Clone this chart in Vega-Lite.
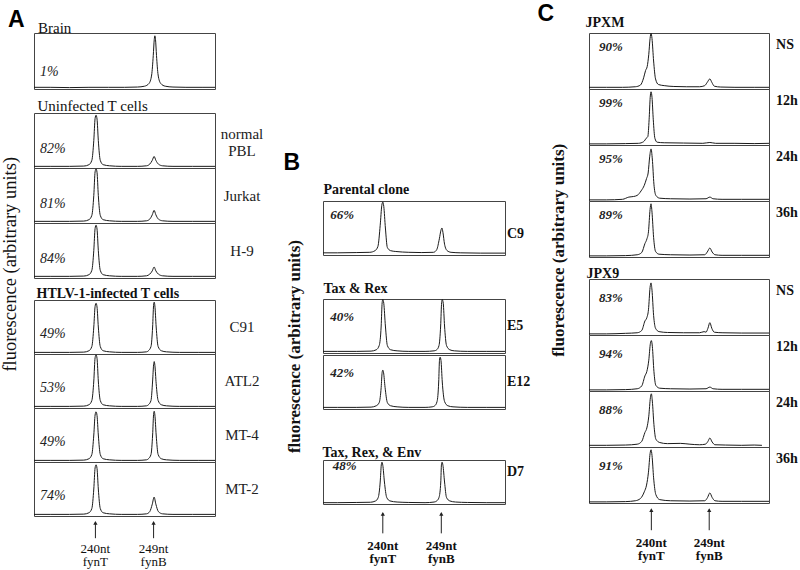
{
"$schema": "https://vega.github.io/schema/vega-lite/v6.json",
"background": "white",
"padding": {"left": 0, "top": 2, "right": 0, "bottom": 0},
"config": {"view": {"stroke": "#444", "strokeWidth": 1}, "font": "Liberation Serif", "title": {"color": "#111"}, "text": {"color": "#111", "font": "Liberation Serif"}},
"datasets": {
"a1": [
{"s":"Brain","x":230.5,"y":0.03},{"s":"Brain","x":233,"y":0.03},{"s":"Brain","x":236,"y":0.025},{"s":"Brain","x":239,"y":0.03},{"s":"Brain","x":242,"y":0.03},{"s":"Brain","x":244.5,"y":0.03},{"s":"Brain","x":246.5,"y":0.035},{"s":"Brain","x":247.6,"y":0.05},{"s":"Brain","x":248.3,"y":0.1},{"s":"Brain","x":248.7,"y":0.25},{"s":"Brain","x":248.95,"y":0.6},{"s":"Brain","x":249.1,"y":0.88},{"s":"Brain","x":249.2,"y":0.95},{"s":"Brain","x":249.3,"y":0.88},{"s":"Brain","x":249.45,"y":0.6},{"s":"Brain","x":249.7,"y":0.25},{"s":"Brain","x":250.1,"y":0.1},{"s":"Brain","x":250.8,"y":0.05},{"s":"Brain","x":252,"y":0.035},{"s":"Brain","x":254,"y":0.03},{"s":"Brain","x":256.5,"y":0.03},{"s":"Brain","x":258.5,"y":0.03},
{"s":"Brain","p":"1%"}
],
"a2": [
{"s":"normal PBL","x":230.5,"y":0.03},{"s":"normal PBL","x":233,"y":0.03},{"s":"normal PBL","x":236,"y":0.03},{"s":"normal PBL","x":238.2,"y":0.035},{"s":"normal PBL","x":239,"y":0.06},{"s":"normal PBL","x":239.45,"y":0.14},{"s":"normal PBL","x":239.75,"y":0.5},{"s":"normal PBL","x":239.95,"y":0.9},{"s":"normal PBL","x":240.1,"y":0.96},{"s":"normal PBL","x":240.25,"y":0.89},{"s":"normal PBL","x":240.45,"y":0.5},{"s":"normal PBL","x":240.75,"y":0.14},{"s":"normal PBL","x":241.2,"y":0.06},{"s":"normal PBL","x":242.2,"y":0.04},{"s":"normal PBL","x":244,"y":0.03},{"s":"normal PBL","x":246.5,"y":0.03},{"s":"normal PBL","x":247.9,"y":0.04},{"s":"normal PBL","x":248.4,"y":0.07},{"s":"normal PBL","x":248.8,"y":0.14},{"s":"normal PBL","x":249.08,"y":0.21},{"s":"normal PBL","x":249.35,"y":0.14},{"s":"normal PBL","x":249.75,"y":0.07},{"s":"normal PBL","x":250.4,"y":0.04},{"s":"normal PBL","x":252,"y":0.03},{"s":"normal PBL","x":255,"y":0.03},{"s":"normal PBL","x":258.5,"y":0.03},
{"s":"Jurkat","x":230.5,"y":0.03},{"s":"Jurkat","x":233,"y":0.03},{"s":"Jurkat","x":236,"y":0.03},{"s":"Jurkat","x":238.2,"y":0.035},{"s":"Jurkat","x":239,"y":0.06},{"s":"Jurkat","x":239.45,"y":0.14},{"s":"Jurkat","x":239.75,"y":0.5},{"s":"Jurkat","x":239.95,"y":0.93},{"s":"Jurkat","x":240.1,"y":0.985},{"s":"Jurkat","x":240.25,"y":0.92},{"s":"Jurkat","x":240.45,"y":0.5},{"s":"Jurkat","x":240.75,"y":0.14},{"s":"Jurkat","x":241.2,"y":0.06},{"s":"Jurkat","x":242.2,"y":0.04},{"s":"Jurkat","x":244,"y":0.03},{"s":"Jurkat","x":246.5,"y":0.03},{"s":"Jurkat","x":247.9,"y":0.04},{"s":"Jurkat","x":248.4,"y":0.07},{"s":"Jurkat","x":248.8,"y":0.15},{"s":"Jurkat","x":249.08,"y":0.23},{"s":"Jurkat","x":249.35,"y":0.15},{"s":"Jurkat","x":249.75,"y":0.07},{"s":"Jurkat","x":250.4,"y":0.04},{"s":"Jurkat","x":252,"y":0.03},{"s":"Jurkat","x":255,"y":0.03},{"s":"Jurkat","x":258.5,"y":0.03},
{"s":"H-9","x":230.5,"y":0.03},{"s":"H-9","x":233,"y":0.03},{"s":"H-9","x":236,"y":0.03},{"s":"H-9","x":238.2,"y":0.035},{"s":"H-9","x":239,"y":0.06},{"s":"H-9","x":239.45,"y":0.14},{"s":"H-9","x":239.75,"y":0.5},{"s":"H-9","x":239.95,"y":0.9},{"s":"H-9","x":240.1,"y":0.96},{"s":"H-9","x":240.25,"y":0.89},{"s":"H-9","x":240.45,"y":0.5},{"s":"H-9","x":240.75,"y":0.14},{"s":"H-9","x":241.2,"y":0.06},{"s":"H-9","x":242.2,"y":0.04},{"s":"H-9","x":244,"y":0.03},{"s":"H-9","x":246.5,"y":0.03},{"s":"H-9","x":247.9,"y":0.04},{"s":"H-9","x":248.4,"y":0.07},{"s":"H-9","x":248.8,"y":0.13},{"s":"H-9","x":249.08,"y":0.2},{"s":"H-9","x":249.35,"y":0.13},{"s":"H-9","x":249.75,"y":0.07},{"s":"H-9","x":250.4,"y":0.04},{"s":"H-9","x":252,"y":0.03},{"s":"H-9","x":255,"y":0.03},{"s":"H-9","x":258.5,"y":0.03},
{"s":"normal PBL","p":"82%"},{"s":"Jurkat","p":"81%"},{"s":"H-9","p":"84%"}
],
"a3": [
{"s":"C91","x":230.5,"y":0.03},{"s":"C91","x":233,"y":0.03},{"s":"C91","x":236,"y":0.03},{"s":"C91","x":238.2,"y":0.035},{"s":"C91","x":239,"y":0.06},{"s":"C91","x":239.45,"y":0.14},{"s":"C91","x":239.75,"y":0.5},{"s":"C91","x":239.95,"y":0.88},{"s":"C91","x":240.1,"y":0.94},{"s":"C91","x":240.25,"y":0.87},{"s":"C91","x":240.45,"y":0.5},{"s":"C91","x":240.75,"y":0.14},{"s":"C91","x":241.2,"y":0.06},{"s":"C91","x":242.2,"y":0.04},{"s":"C91","x":244,"y":0.03},{"s":"C91","x":246.5,"y":0.03},{"s":"C91","x":247.9,"y":0.04},{"s":"C91","x":248.2,"y":0.06},{"s":"C91","x":248.6,"y":0.14},{"s":"C91","x":248.85,"y":0.5},{"s":"C91","x":249.0,"y":0.9},{"s":"C91","x":249.1,"y":0.96},{"s":"C91","x":249.2,"y":0.89},{"s":"C91","x":249.4,"y":0.5},{"s":"C91","x":249.7,"y":0.14},{"s":"C91","x":250.2,"y":0.06},{"s":"C91","x":251,"y":0.04},{"s":"C91","x":253,"y":0.03},{"s":"C91","x":256,"y":0.03},{"s":"C91","x":258.5,"y":0.03},
{"s":"ATL2","x":230.5,"y":0.03},{"s":"ATL2","x":233,"y":0.03},{"s":"ATL2","x":236,"y":0.03},{"s":"ATL2","x":238.2,"y":0.035},{"s":"ATL2","x":239,"y":0.06},{"s":"ATL2","x":239.45,"y":0.14},{"s":"ATL2","x":239.75,"y":0.5},{"s":"ATL2","x":239.95,"y":0.93},{"s":"ATL2","x":240.1,"y":0.985},{"s":"ATL2","x":240.25,"y":0.92},{"s":"ATL2","x":240.45,"y":0.5},{"s":"ATL2","x":240.75,"y":0.14},{"s":"ATL2","x":241.2,"y":0.06},{"s":"ATL2","x":242.2,"y":0.04},{"s":"ATL2","x":244,"y":0.03},{"s":"ATL2","x":246.5,"y":0.03},{"s":"ATL2","x":247.9,"y":0.04},{"s":"ATL2","x":248.2,"y":0.06},{"s":"ATL2","x":248.6,"y":0.14},{"s":"ATL2","x":248.85,"y":0.5},{"s":"ATL2","x":249.0,"y":0.8},{"s":"ATL2","x":249.1,"y":0.86},{"s":"ATL2","x":249.2,"y":0.79},{"s":"ATL2","x":249.4,"y":0.45},{"s":"ATL2","x":249.7,"y":0.14},{"s":"ATL2","x":250.2,"y":0.06},{"s":"ATL2","x":251,"y":0.04},{"s":"ATL2","x":253,"y":0.03},{"s":"ATL2","x":256,"y":0.03},{"s":"ATL2","x":258.5,"y":0.03},
{"s":"MT-4","x":230.5,"y":0.03},{"s":"MT-4","x":233,"y":0.03},{"s":"MT-4","x":236,"y":0.03},{"s":"MT-4","x":238.2,"y":0.035},{"s":"MT-4","x":239,"y":0.06},{"s":"MT-4","x":239.45,"y":0.14},{"s":"MT-4","x":239.75,"y":0.5},{"s":"MT-4","x":239.95,"y":0.87},{"s":"MT-4","x":240.1,"y":0.93},{"s":"MT-4","x":240.25,"y":0.86},{"s":"MT-4","x":240.45,"y":0.5},{"s":"MT-4","x":240.75,"y":0.14},{"s":"MT-4","x":241.2,"y":0.06},{"s":"MT-4","x":242.2,"y":0.04},{"s":"MT-4","x":244,"y":0.03},{"s":"MT-4","x":246.5,"y":0.03},{"s":"MT-4","x":247.9,"y":0.04},{"s":"MT-4","x":248.2,"y":0.06},{"s":"MT-4","x":248.6,"y":0.14},{"s":"MT-4","x":248.85,"y":0.5},{"s":"MT-4","x":249.0,"y":0.88},{"s":"MT-4","x":249.1,"y":0.94},{"s":"MT-4","x":249.2,"y":0.87},{"s":"MT-4","x":249.4,"y":0.5},{"s":"MT-4","x":249.7,"y":0.14},{"s":"MT-4","x":250.2,"y":0.06},{"s":"MT-4","x":251,"y":0.04},{"s":"MT-4","x":253,"y":0.03},{"s":"MT-4","x":256,"y":0.03},{"s":"MT-4","x":258.5,"y":0.03},
{"s":"MT-2","x":230.5,"y":0.03},{"s":"MT-2","x":233,"y":0.03},{"s":"MT-2","x":236,"y":0.03},{"s":"MT-2","x":238.2,"y":0.035},{"s":"MT-2","x":239,"y":0.06},{"s":"MT-2","x":239.45,"y":0.14},{"s":"MT-2","x":239.75,"y":0.5},{"s":"MT-2","x":239.95,"y":0.89},{"s":"MT-2","x":240.1,"y":0.95},{"s":"MT-2","x":240.25,"y":0.88},{"s":"MT-2","x":240.45,"y":0.5},{"s":"MT-2","x":240.75,"y":0.14},{"s":"MT-2","x":241.2,"y":0.06},{"s":"MT-2","x":242.2,"y":0.04},{"s":"MT-2","x":244,"y":0.03},{"s":"MT-2","x":246.5,"y":0.03},{"s":"MT-2","x":247.9,"y":0.04},{"s":"MT-2","x":248.4,"y":0.08},{"s":"MT-2","x":248.8,"y":0.22},{"s":"MT-2","x":249.08,"y":0.35},{"s":"MT-2","x":249.35,"y":0.22},{"s":"MT-2","x":249.75,"y":0.08},{"s":"MT-2","x":250.4,"y":0.04},{"s":"MT-2","x":252,"y":0.03},{"s":"MT-2","x":255,"y":0.03},{"s":"MT-2","x":258.5,"y":0.03},
{"s":"C91","p":"49%"},{"s":"ATL2","p":"53%"},{"s":"MT-4","p":"49%"},{"s":"MT-2","p":"74%"}
],
"b1": [
{"s":"C9","x":230.8,"y":0.04},{"s":"C9","x":233,"y":0.04},{"s":"C9","x":236,"y":0.045},{"s":"C9","x":238,"y":0.05},{"s":"C9","x":238.8,"y":0.08},{"s":"C9","x":239.25,"y":0.16},{"s":"C9","x":239.6,"y":0.55},{"s":"C9","x":239.85,"y":0.92},{"s":"C9","x":240.0,"y":0.98},{"s":"C9","x":240.15,"y":0.9},{"s":"C9","x":240.4,"y":0.5},{"s":"C9","x":240.7,"y":0.14},{"s":"C9","x":241.2,"y":0.08},{"s":"C9","x":242,"y":0.065},{"s":"C9","x":244,"y":0.05},{"s":"C9","x":246,"y":0.045},{"s":"C9","x":247.8,"y":0.05},{"s":"C9","x":248.3,"y":0.1},{"s":"C9","x":248.7,"y":0.3},{"s":"C9","x":248.95,"y":0.46},{"s":"C9","x":249.1,"y":0.5},{"s":"C9","x":249.25,"y":0.42},{"s":"C9","x":249.5,"y":0.2},{"s":"C9","x":249.9,"y":0.08},{"s":"C9","x":250.5,"y":0.05},{"s":"C9","x":252,"y":0.04},{"s":"C9","x":255,"y":0.035},{"s":"C9","x":258.8,"y":0.035},
{"s":"C9","p":"66%"}
],
"b2": [
{"s":"E5","x":230.8,"y":0.03},{"s":"E5","x":233,"y":0.03},{"s":"E5","x":236,"y":0.03},{"s":"E5","x":238.2,"y":0.035},{"s":"E5","x":239,"y":0.06},{"s":"E5","x":239.45,"y":0.14},{"s":"E5","x":239.75,"y":0.5},{"s":"E5","x":239.9,"y":0.93},{"s":"E5","x":240.0,"y":0.99},{"s":"E5","x":240.15,"y":0.92},{"s":"E5","x":240.4,"y":0.5},{"s":"E5","x":240.7,"y":0.14},{"s":"E5","x":241.2,"y":0.06},{"s":"E5","x":242.2,"y":0.04},{"s":"E5","x":244,"y":0.03},{"s":"E5","x":246.5,"y":0.03},{"s":"E5","x":247.9,"y":0.04},{"s":"E5","x":248.3,"y":0.06},{"s":"E5","x":248.65,"y":0.14},{"s":"E5","x":248.9,"y":0.5},{"s":"E5","x":249.05,"y":0.93},{"s":"E5","x":249.15,"y":0.99},{"s":"E5","x":249.3,"y":0.92},{"s":"E5","x":249.5,"y":0.5},{"s":"E5","x":249.8,"y":0.14},{"s":"E5","x":250.3,"y":0.06},{"s":"E5","x":251,"y":0.04},{"s":"E5","x":253,"y":0.03},{"s":"E5","x":256,"y":0.03},{"s":"E5","x":258.8,"y":0.03},
{"s":"E12","x":230.8,"y":0.03},{"s":"E12","x":233,"y":0.03},{"s":"E12","x":236,"y":0.03},{"s":"E12","x":238.2,"y":0.035},{"s":"E12","x":239,"y":0.06},{"s":"E12","x":239.45,"y":0.12},{"s":"E12","x":239.75,"y":0.4},{"s":"E12","x":239.9,"y":0.68},{"s":"E12","x":240.0,"y":0.72},{"s":"E12","x":240.12,"y":0.67},{"s":"E12","x":240.35,"y":0.4},{"s":"E12","x":240.7,"y":0.12},{"s":"E12","x":241.2,"y":0.06},{"s":"E12","x":242.2,"y":0.04},{"s":"E12","x":244,"y":0.03},{"s":"E12","x":246.5,"y":0.03},{"s":"E12","x":247.6,"y":0.04},{"s":"E12","x":248.0,"y":0.06},{"s":"E12","x":248.35,"y":0.14},{"s":"E12","x":248.6,"y":0.5},{"s":"E12","x":248.72,"y":0.9},{"s":"E12","x":248.82,"y":0.96},{"s":"E12","x":248.95,"y":0.9},{"s":"E12","x":249.15,"y":0.5},{"s":"E12","x":249.5,"y":0.14},{"s":"E12","x":250,"y":0.06},{"s":"E12","x":250.8,"y":0.04},{"s":"E12","x":253,"y":0.03},{"s":"E12","x":256,"y":0.03},{"s":"E12","x":258.8,"y":0.03},
{"s":"E5","p":"40%"},{"s":"E12","p":"42%"}
],
"b3": [
{"s":"D7","x":230.8,"y":0.03},{"s":"D7","x":233,"y":0.03},{"s":"D7","x":236,"y":0.035},{"s":"D7","x":238.1,"y":0.04},{"s":"D7","x":238.9,"y":0.07},{"s":"D7","x":239.3,"y":0.15},{"s":"D7","x":239.6,"y":0.5},{"s":"D7","x":239.77,"y":0.89},{"s":"D7","x":239.87,"y":0.95},{"s":"D7","x":240.0,"y":0.88},{"s":"D7","x":240.25,"y":0.5},{"s":"D7","x":240.6,"y":0.15},{"s":"D7","x":241.1,"y":0.07},{"s":"D7","x":242.2,"y":0.045},{"s":"D7","x":244,"y":0.035},{"s":"D7","x":246.5,"y":0.03},{"s":"D7","x":247.9,"y":0.045},{"s":"D7","x":248.3,"y":0.07},{"s":"D7","x":248.65,"y":0.15},{"s":"D7","x":248.92,"y":0.5},{"s":"D7","x":249.02,"y":0.89},{"s":"D7","x":249.12,"y":0.95},{"s":"D7","x":249.25,"y":0.88},{"s":"D7","x":249.5,"y":0.5},{"s":"D7","x":249.8,"y":0.15},{"s":"D7","x":250.3,"y":0.07},{"s":"D7","x":251.2,"y":0.045},{"s":"D7","x":253,"y":0.035},{"s":"D7","x":256,"y":0.03},{"s":"D7","x":258.8,"y":0.03},
{"s":"D7","p":"48%"}
],
"c1": [
{"s":"NS","x":230.3,"y":0.03},{"s":"NS","x":233,"y":0.03},{"s":"NS","x":235.5,"y":0.03},{"s":"NS","x":237.5,"y":0.04},{"s":"NS","x":238.3,"y":0.07},{"s":"NS","x":238.8,"y":0.2},{"s":"NS","x":239.1,"y":0.33},{"s":"NS","x":239.35,"y":0.4},{"s":"NS","x":239.6,"y":0.62},{"s":"NS","x":239.8,"y":0.9},{"s":"NS","x":239.95,"y":0.995},{"s":"NS","x":240.1,"y":0.9},{"s":"NS","x":240.35,"y":0.5},{"s":"NS","x":240.65,"y":0.18},{"s":"NS","x":241.1,"y":0.08},{"s":"NS","x":242,"y":0.06},{"s":"NS","x":243.5,"y":0.045},{"s":"NS","x":245.5,"y":0.04},{"s":"NS","x":247.5,"y":0.04},{"s":"NS","x":248.3,"y":0.06},{"s":"NS","x":248.7,"y":0.12},{"s":"NS","x":249.1,"y":0.18},{"s":"NS","x":249.4,"y":0.12},{"s":"NS","x":249.8,"y":0.05},{"s":"NS","x":250.8,"y":0.035},{"s":"NS","x":253,"y":0.03},{"s":"NS","x":256,"y":0.03},{"s":"NS","x":258.3,"y":0.03},
{"s":"12h","x":230.3,"y":0.02},{"s":"12h","x":233,"y":0.02},{"s":"12h","x":236,"y":0.025},{"s":"12h","x":238,"y":0.03},{"s":"12h","x":238.8,"y":0.06},{"s":"12h","x":239.2,"y":0.12},{"s":"12h","x":239.45,"y":0.15},{"s":"12h","x":239.65,"y":0.45},{"s":"12h","x":239.82,"y":0.85},{"s":"12h","x":239.95,"y":0.95},{"s":"12h","x":240.1,"y":0.85},{"s":"12h","x":240.3,"y":0.45},{"s":"12h","x":240.55,"y":0.12},{"s":"12h","x":240.9,"y":0.05},{"s":"12h","x":242,"y":0.04},{"s":"12h","x":245,"y":0.035},{"s":"12h","x":248,"y":0.03},{"s":"12h","x":249.1,"y":0.045},{"s":"12h","x":250,"y":0.03},{"s":"12h","x":253,"y":0.03},{"s":"12h","x":256,"y":0.025},{"s":"12h","x":258.3,"y":0.03},
{"s":"24h","x":230.3,"y":0.02},{"s":"24h","x":233,"y":0.02},{"s":"24h","x":235.5,"y":0.03},{"s":"24h","x":236.5,"y":0.07},{"s":"24h","x":237.2,"y":0.08},{"s":"24h","x":237.8,"y":0.1},{"s":"24h","x":238.4,"y":0.18},{"s":"24h","x":238.9,"y":0.28},{"s":"24h","x":239.25,"y":0.4},{"s":"24h","x":239.5,"y":0.5},{"s":"24h","x":239.75,"y":0.8},{"s":"24h","x":239.95,"y":0.93},{"s":"24h","x":240.15,"y":0.75},{"s":"24h","x":240.4,"y":0.3},{"s":"24h","x":240.7,"y":0.1},{"s":"24h","x":241.3,"y":0.05},{"s":"24h","x":243,"y":0.04},{"s":"24h","x":246,"y":0.035},{"s":"24h","x":248.5,"y":0.04},{"s":"24h","x":249.1,"y":0.07},{"s":"24h","x":249.6,"y":0.04},{"s":"24h","x":251,"y":0.03},{"s":"24h","x":254,"y":0.03},{"s":"24h","x":258.3,"y":0.03},
{"s":"36h","x":230.3,"y":0.02},{"s":"36h","x":233,"y":0.02},{"s":"36h","x":236,"y":0.025},{"s":"36h","x":237.8,"y":0.04},{"s":"36h","x":238.5,"y":0.08},{"s":"36h","x":239.0,"y":0.24},{"s":"36h","x":239.3,"y":0.32},{"s":"36h","x":239.55,"y":0.45},{"s":"36h","x":239.8,"y":0.85},{"s":"36h","x":239.95,"y":0.95},{"s":"36h","x":240.1,"y":0.8},{"s":"36h","x":240.35,"y":0.35},{"s":"36h","x":240.65,"y":0.1},{"s":"36h","x":241.2,"y":0.05},{"s":"36h","x":243,"y":0.04},{"s":"36h","x":246,"y":0.035},{"s":"36h","x":248.3,"y":0.04},{"s":"36h","x":248.7,"y":0.09},{"s":"36h","x":249.1,"y":0.16},{"s":"36h","x":249.45,"y":0.09},{"s":"36h","x":249.9,"y":0.04},{"s":"36h","x":251,"y":0.03},{"s":"36h","x":254,"y":0.03},{"s":"36h","x":258.3,"y":0.03},
{"s":"NS","p":"90%"},{"s":"12h","p":"99%"},{"s":"24h","p":"95%"},{"s":"36h","p":"89%"}
],
"c2": [
{"s":"NS","x":230.3,"y":0.02},{"s":"NS","x":233,"y":0.02},{"s":"NS","x":236,"y":0.03},{"s":"NS","x":237.8,"y":0.04},{"s":"NS","x":238.5,"y":0.08},{"s":"NS","x":239.0,"y":0.25},{"s":"NS","x":239.3,"y":0.31},{"s":"NS","x":239.55,"y":0.45},{"s":"NS","x":239.8,"y":0.85},{"s":"NS","x":239.95,"y":0.93},{"s":"NS","x":240.1,"y":0.8},{"s":"NS","x":240.35,"y":0.35},{"s":"NS","x":240.65,"y":0.12},{"s":"NS","x":241.2,"y":0.06},{"s":"NS","x":242.5,"y":0.045},{"s":"NS","x":245,"y":0.04},{"s":"NS","x":247.5,"y":0.04},{"s":"NS","x":248.2,"y":0.06},{"s":"NS","x":248.5,"y":0.05},{"s":"NS","x":248.8,"y":0.12},{"s":"NS","x":249.1,"y":0.22},{"s":"NS","x":249.4,"y":0.12},{"s":"NS","x":249.8,"y":0.05},{"s":"NS","x":251,"y":0.04},{"s":"NS","x":254,"y":0.035},{"s":"NS","x":258.3,"y":0.035},
{"s":"12h","x":230.3,"y":0.02},{"s":"12h","x":233,"y":0.02},{"s":"12h","x":236,"y":0.025},{"s":"12h","x":237.8,"y":0.04},{"s":"12h","x":238.5,"y":0.09},{"s":"12h","x":239.0,"y":0.27},{"s":"12h","x":239.3,"y":0.35},{"s":"12h","x":239.6,"y":0.55},{"s":"12h","x":239.85,"y":0.85},{"s":"12h","x":240.0,"y":0.9},{"s":"12h","x":240.15,"y":0.8},{"s":"12h","x":240.4,"y":0.35},{"s":"12h","x":240.7,"y":0.1},{"s":"12h","x":241.3,"y":0.05},{"s":"12h","x":243,"y":0.04},{"s":"12h","x":246,"y":0.035},{"s":"12h","x":248.5,"y":0.04},{"s":"12h","x":249.1,"y":0.07},{"s":"12h","x":249.6,"y":0.04},{"s":"12h","x":251,"y":0.03},{"s":"12h","x":254,"y":0.03},{"s":"12h","x":258.3,"y":0.03},
{"s":"24h","x":230.3,"y":0.03},{"s":"24h","x":233,"y":0.03},{"s":"24h","x":236,"y":0.035},{"s":"24h","x":237.8,"y":0.05},{"s":"24h","x":238.5,"y":0.1},{"s":"24h","x":239.0,"y":0.26},{"s":"24h","x":239.3,"y":0.34},{"s":"24h","x":239.6,"y":0.55},{"s":"24h","x":239.85,"y":0.88},{"s":"24h","x":240.0,"y":0.95},{"s":"24h","x":240.15,"y":0.82},{"s":"24h","x":240.4,"y":0.4},{"s":"24h","x":240.7,"y":0.14},{"s":"24h","x":241.3,"y":0.08},{"s":"24h","x":242.5,"y":0.06},{"s":"24h","x":244.5,"y":0.065},{"s":"24h","x":246,"y":0.05},{"s":"24h","x":247.5,"y":0.04},{"s":"24h","x":248.4,"y":0.05},{"s":"24h","x":248.8,"y":0.1},{"s":"24h","x":249.1,"y":0.16},{"s":"24h","x":249.45,"y":0.09},{"s":"24h","x":249.9,"y":0.04},{"s":"24h","x":251.5,"y":0.035},{"s":"24h","x":254,"y":0.03},{"s":"24h","x":256,"y":0.035},{"s":"24h","x":257.2,"y":0.03},
{"s":"36h","x":230.3,"y":0.02},{"s":"36h","x":233,"y":0.02},{"s":"36h","x":236,"y":0.025},{"s":"36h","x":237.5,"y":0.04},{"s":"36h","x":238.3,"y":0.08},{"s":"36h","x":238.9,"y":0.2},{"s":"36h","x":239.25,"y":0.32},{"s":"36h","x":239.55,"y":0.55},{"s":"36h","x":239.8,"y":0.88},{"s":"36h","x":239.95,"y":0.95},{"s":"36h","x":240.1,"y":0.85},{"s":"36h","x":240.35,"y":0.45},{"s":"36h","x":240.7,"y":0.15},{"s":"36h","x":241.3,"y":0.06},{"s":"36h","x":243,"y":0.04},{"s":"36h","x":246,"y":0.035},{"s":"36h","x":248.3,"y":0.04},{"s":"36h","x":248.75,"y":0.1},{"s":"36h","x":249.1,"y":0.18},{"s":"36h","x":249.45,"y":0.1},{"s":"36h","x":249.9,"y":0.04},{"s":"36h","x":251,"y":0.03},{"s":"36h","x":254,"y":0.03},{"s":"36h","x":258.3,"y":0.03},
{"s":"NS","p":"83%"},{"s":"12h","p":"94%"},{"s":"24h","p":"88%"},{"s":"36h","p":"91%"}
],
"arr": [{"x":240,"a":"240nt","b":"fynT"},{"x":249,"a":"249nt","b":"fynB"}]
},
"hconcat": [
{"hconcat": [
{
"title": {"text":"A","anchor":"start","font":"Liberation Sans","fontSize":23,"fontWeight":"bold","baseline":"alphabetic","offset":-29,"dx":7,"color":"#000"},
"vconcat": [{
"title": {"text":"fluorescence (arbitrary units)","orient":"left","anchor":"middle","font":"Liberation Serif","fontSize":18.5,"fontWeight":"normal","baseline":"alphabetic","offset":-1,"dx":31,"color":"#111"},
"spacing": 0,
"vconcat": [
{"spacing": 8, "vconcat": [
{"data":{"name":"a1"},"width":181,"height":56,
"title":{"text":"Brain","anchor":"start","font":"Liberation Serif","fontSize":15,"fontWeight":"normal","baseline":"alphabetic","offset":-15,"dx":4,"color":"#111"},
"layer":[
{"transform":[{"filter":"isValid(datum.y)"}],"mark":{"type":"line","color":"#1a1a1a","strokeWidth":1,"interpolate":"monotone","clip":true},"encoding":{"x":{"field":"x","type":"quantitative","scale":{"domain":[230.5,258.5],"nice":false},"axis":null},"y":{"field":"y","type":"quantitative","scale":{"domain":[0,1],"nice":false},"axis":null}}},
{"transform":[{"filter":"isValid(datum.p)"}],"mark":{"type":"text","align":"left","baseline":"alphabetic","fontSize":14,"fontStyle":"italic","color":"#222"},"encoding":{"x":{"datum":231.43},"y":{"datum":0.24},"text":{"field":"p"}}}
]},
{"data":{"name":"a2"},
"title":{"text":"Uninfected T cells","anchor":"start","font":"Liberation Serif","fontSize":15,"fontWeight":"normal","baseline":"alphabetic","offset":-13,"dx":4,"color":"#111"},
"facet":{"row":{"field":"s","type":"nominal","title":null,"sort":["normal PBL","Jurkat","H-9"],"header":{"labels":false}}},
"spacing":0,"bounds":"flush",
"spec":{"width":181,"height":55,"layer":[
{"transform":[{"filter":"isValid(datum.y)"}],"mark":{"type":"line","color":"#1a1a1a","strokeWidth":1,"interpolate":"monotone","clip":true},"encoding":{"x":{"field":"x","type":"quantitative","scale":{"domain":[230.5,258.5],"nice":false},"axis":null},"y":{"field":"y","type":"quantitative","scale":{"domain":[0,1],"nice":false},"axis":null}}},
{"transform":[{"filter":"isValid(datum.p)"}],"mark":{"type":"text","align":"left","baseline":"alphabetic","fontSize":14,"fontStyle":"italic","color":"#222"},"encoding":{"x":{"datum":231.43},"y":{"datum":0.27},"text":{"field":"p"}}},
{"transform":[{"filter":"isValid(datum.p) && datum.s != 'normal PBL'"}],"mark":{"type":"text","align":"center","baseline":"middle","fontSize":15,"color":"#222"},"encoding":{"x":{"datum":262.68},"y":{"datum":0.5},"text":{"field":"s"}}},
{"transform":[{"filter":"isValid(datum.p) && datum.s == 'normal PBL'"}],"mark":{"type":"text","align":"center","baseline":"middle","fontSize":15,"lineBreak":" ","lineHeight":17,"color":"#222"},"encoding":{"x":{"datum":262.68},"y":{"datum":0.627},"text":{"field":"s"}}}
]}},
{"data":{"name":"a3"},
"title":{"text":"HTLV-1-infected T cells","anchor":"start","font":"Liberation Serif","fontSize":14,"fontWeight":"bold","baseline":"alphabetic","offset":-12.5,"dx":3,"color":"#111"},
"facet":{"row":{"field":"s","type":"nominal","title":null,"sort":["C91","ATL2","MT-4","MT-2"],"header":{"labels":false}}},
"spacing":0,"bounds":"flush",
"spec":{"width":181,"height":54,"layer":[
{"transform":[{"filter":"isValid(datum.y)"}],"mark":{"type":"line","color":"#1a1a1a","strokeWidth":1,"interpolate":"monotone","clip":true},"encoding":{"x":{"field":"x","type":"quantitative","scale":{"domain":[230.5,258.5],"nice":false},"axis":null},"y":{"field":"y","type":"quantitative","scale":{"domain":[0,1],"nice":false},"axis":null}}},
{"transform":[{"filter":"isValid(datum.p)"}],"mark":{"type":"text","align":"left","baseline":"alphabetic","fontSize":14,"fontStyle":"italic","color":"#222"},"encoding":{"x":{"datum":231.43},"y":{"datum":0.29},"text":{"field":"p"}}},
{"transform":[{"filter":"isValid(datum.p)"}],"mark":{"type":"text","align":"center","baseline":"middle","fontSize":15,"color":"#222"},"encoding":{"x":{"datum":262.68},"y":{"datum":0.5},"text":{"field":"s"}}}
]}}
]},
{"data":{"name":"arr"},"width":181,"height":53,"view":{"stroke":null},"layer":[
{"mark":{"type":"rule","color":"#222","strokeWidth":1},"encoding":{"x":{"field":"x","type":"quantitative","scale":{"domain":[230.5,258.5],"nice":false},"axis":null},"y":{"datum":0.9,"scale":{"domain":[0,1],"nice":false},"axis":null},"y2":{"datum":0.6}}},
{"mark":{"type":"point","shape":"triangle-up","filled":true,"size":18,"color":"#222","opacity":1},"encoding":{"x":{"field":"x","type":"quantitative"},"y":{"datum":0.89}}},
{"mark":{"type":"text","align":"center","baseline":"alphabetic","fontSize":13,"color":"#111"},"encoding":{"x":{"field":"x","type":"quantitative"},"y":{"datum":0.33},"text":{"field":"a"}}},
{"mark":{"type":"text","align":"center","baseline":"alphabetic","fontSize":13,"color":"#111"},"encoding":{"x":{"field":"x","type":"quantitative"},"y":{"datum":0.08},"text":{"field":"b"}}}
]}
]
}]
},
{
"spacing": 0,
"vconcat": [
{"data":{"values":[]},"mark":"rule","encoding":{},"width":1,"height":117,"view":{"stroke":"white","fill":"white"}},
{
"title": {"text":"B","anchor":"start","font":"Liberation Sans","fontSize":23,"fontWeight":"bold","baseline":"alphabetic","offset":-9.5,"dx":-2,"color":"#000"},
"vconcat": [{
"title": {"text":"fluorescence (arbitrary units)","orient":"left","anchor":"middle","font":"Liberation Serif","fontSize":17,"fontWeight":"bold","baseline":"alphabetic","offset":6,"dx":29,"color":"#111"},
"spacing": 0,
"vconcat": [
{"spacing": 35, "vconcat": [
{"spacing": 26, "vconcat": [
{"data":{"name":"b1"},
"title":{"text":"Parental clone","anchor":"start","font":"Liberation Serif","fontSize":14,"fontWeight":"bold","baseline":"alphabetic","offset":-7.5,"dx":1,"color":"#111"},
"facet":{"row":{"field":"s","type":"nominal","title":null,"header":{"labels":false}}},
"spacing":0,"bounds":"flush",
"spec":{"width":182,"height":54,"layer":[
{"transform":[{"filter":"isValid(datum.y)"}],"mark":{"type":"line","color":"#1a1a1a","strokeWidth":1,"interpolate":"monotone","clip":true},"encoding":{"x":{"field":"x","type":"quantitative","scale":{"domain":[230.8,258.8],"nice":false},"axis":null},"y":{"field":"y","type":"quantitative","scale":{"domain":[0,1],"nice":false},"axis":null}}},
{"transform":[{"filter":"isValid(datum.p)"}],"mark":{"type":"text","align":"left","baseline":"alphabetic","fontSize":13,"fontStyle":"italic","fontWeight":"bold","color":"#222"},"encoding":{"x":{"datum":231.9},"y":{"datum":0.67},"text":{"field":"p"}}},
{"transform":[{"filter":"isValid(datum.p)"}],"mark":{"type":"text","align":"left","baseline":"middle","fontSize":14,"fontWeight":"bold","color":"#111"},"encoding":{"x":{"datum":259.1},"y":{"datum":0.39},"text":{"field":"s"}}}
]}},
{"data":{"name":"b2"},
"title":{"text":"Tax & Rex","anchor":"start","font":"Liberation Serif","fontSize":14,"fontWeight":"bold","baseline":"alphabetic","offset":-8.5,"dx":1,"color":"#111"},
"facet":{"row":{"field":"s","type":"nominal","title":null,"sort":["E5","E12"],"header":{"labels":false}}},
"spacing":2,"bounds":"flush",
"spec":{"width":182,"height":54,"layer":[
{"transform":[{"filter":"isValid(datum.y)"}],"mark":{"type":"line","color":"#1a1a1a","strokeWidth":1,"interpolate":"monotone","clip":true},"encoding":{"x":{"field":"x","type":"quantitative","scale":{"domain":[230.8,258.8],"nice":false},"axis":null},"y":{"field":"y","type":"quantitative","scale":{"domain":[0,1],"nice":false},"axis":null}}},
{"transform":[{"filter":"isValid(datum.p)"}],"mark":{"type":"text","align":"left","baseline":"alphabetic","fontSize":13,"fontStyle":"italic","fontWeight":"bold","color":"#222"},"encoding":{"x":{"datum":231.9},"y":{"datum":0.6},"text":{"field":"p"}}},
{"transform":[{"filter":"isValid(datum.p)"}],"mark":{"type":"text","align":"left","baseline":"middle","fontSize":14,"fontWeight":"bold","color":"#111"},"encoding":{"x":{"datum":259.1},"y":{"datum":0.5},"text":{"field":"s"}}}
]}}
]},
{"data":{"name":"b3"},
"title":{"text":"Tax, Rex, & Env","anchor":"start","font":"Liberation Serif","fontSize":14,"fontWeight":"bold","baseline":"alphabetic","offset":-11,"dx":0,"color":"#111"},
"facet":{"row":{"field":"s","type":"nominal","title":null,"header":{"labels":false}}},
"spacing":0,"bounds":"flush",
"spec":{"width":182,"height":44,"layer":[
{"transform":[{"filter":"isValid(datum.y)"}],"mark":{"type":"line","color":"#1a1a1a","strokeWidth":1,"interpolate":"monotone","clip":true},"encoding":{"x":{"field":"x","type":"quantitative","scale":{"domain":[230.8,258.8],"nice":false},"axis":null},"y":{"field":"y","type":"quantitative","scale":{"domain":[0,1],"nice":false},"axis":null}}},
{"transform":[{"filter":"isValid(datum.p)"}],"mark":{"type":"text","align":"left","baseline":"alphabetic","fontSize":13,"fontStyle":"italic","fontWeight":"bold","color":"#222"},"encoding":{"x":{"datum":232.3},"y":{"datum":0.77},"text":{"field":"p"}}},
{"transform":[{"filter":"isValid(datum.p)"}],"mark":{"type":"text","align":"left","baseline":"middle","fontSize":14,"fontWeight":"bold","color":"#111"},"encoding":{"x":{"datum":259.1},"y":{"datum":0.72},"text":{"field":"s"}}}
]}}
]},
{"data":{"name":"arr"},"width":182,"height":63,"view":{"stroke":null},"layer":[
{"mark":{"type":"rule","color":"#222","strokeWidth":1},"encoding":{"x":{"field":"x","type":"quantitative","scale":{"domain":[230.8,258.8],"nice":false},"axis":null},"y":{"datum":0.87,"scale":{"domain":[0,1],"nice":false},"axis":null},"y2":{"datum":0.55}}},
{"mark":{"type":"point","shape":"triangle-up","filled":true,"size":18,"color":"#222","opacity":1},"encoding":{"x":{"field":"x","type":"quantitative"},"y":{"datum":0.86}}},
{"mark":{"type":"text","align":"center","baseline":"alphabetic","fontSize":13,"fontWeight":"bold","color":"#111"},"encoding":{"x":{"field":"x","type":"quantitative"},"y":{"datum":0.29},"text":{"field":"a"}}},
{"mark":{"type":"text","align":"center","baseline":"alphabetic","fontSize":13,"fontWeight":"bold","color":"#111"},"encoding":{"x":{"field":"x","type":"quantitative"},"y":{"datum":0.075},"text":{"field":"b"}}}
]}
]
}]
}
]
}
], "spacing": 19},
{
"title": {"text":"C","anchor":"start","font":"Liberation Sans","fontSize":23,"fontWeight":"bold","baseline":"alphabetic","offset":-28,"dx":-12,"color":"#000"},
"vconcat": [{
"title": {"text":"fluorescence (arbitrary units)","orient":"left","anchor":"middle","font":"Liberation Serif","fontSize":17,"fontWeight":"bold","baseline":"alphabetic","offset":5,"dx":40,"color":"#111"},
"spacing": 0,
"vconcat": [
{"spacing": 8, "vconcat": [
{"data":{"name":"c1"},
"title":{"text":"JPXM","anchor":"start","font":"Liberation Serif","fontSize":14,"fontWeight":"bold","baseline":"alphabetic","offset":-8,"dx":-3,"color":"#111"},
"facet":{"row":{"field":"s","type":"nominal","title":null,"sort":["NS","12h","24h","36h"],"header":{"labels":false}}},
"spacing":0,"bounds":"flush",
"spec":{"width":180,"height":56,"layer":[
{"transform":[{"filter":"isValid(datum.y)"}],"mark":{"type":"line","color":"#1a1a1a","strokeWidth":1,"interpolate":"monotone","clip":true},"encoding":{"x":{"field":"x","type":"quantitative","scale":{"domain":[230.3,258.3],"nice":false},"axis":null},"y":{"field":"y","type":"quantitative","scale":{"domain":[0,1],"nice":false},"axis":null}}},
{"transform":[{"filter":"isValid(datum.p)"}],"mark":{"type":"text","align":"left","baseline":"alphabetic","fontSize":13,"fontStyle":"italic","fontWeight":"bold","color":"#222"},"encoding":{"x":{"datum":231.86},"y":{"datum":0.67},"text":{"field":"p"}}},
{"transform":[{"filter":"isValid(datum.p)"}],"mark":{"type":"text","align":"left","baseline":"alphabetic","fontSize":14,"fontWeight":"bold","color":"#111"},"encoding":{"x":{"datum":259.4},"y":{"datum":0.72},"text":{"field":"s"}}}
]}},
{"data":{"name":"c2"},
"title":{"text":"JPX9","anchor":"start","font":"Liberation Serif","fontSize":14,"fontWeight":"bold","baseline":"alphabetic","offset":-13,"dx":-2,"color":"#111"},
"facet":{"row":{"field":"s","type":"nominal","title":null,"sort":["NS","12h","24h","36h"],"header":{"labels":false}}},
"spacing":0,"bounds":"flush",
"spec":{"width":180,"height":56,"layer":[
{"transform":[{"filter":"isValid(datum.y)"}],"mark":{"type":"line","color":"#1a1a1a","strokeWidth":1,"interpolate":"monotone","clip":true},"encoding":{"x":{"field":"x","type":"quantitative","scale":{"domain":[230.3,258.3],"nice":false},"axis":null},"y":{"field":"y","type":"quantitative","scale":{"domain":[0,1],"nice":false},"axis":null}}},
{"transform":[{"filter":"isValid(datum.p)"}],"mark":{"type":"text","align":"left","baseline":"alphabetic","fontSize":13,"fontStyle":"italic","fontWeight":"bold","color":"#222"},"encoding":{"x":{"datum":231.86},"y":{"datum":0.585},"text":{"field":"p"}}},
{"transform":[{"filter":"isValid(datum.p)"}],"mark":{"type":"text","align":"left","baseline":"alphabetic","fontSize":14,"fontWeight":"bold","color":"#111"},"encoding":{"x":{"datum":259.4},"y":{"datum":0.72},"text":{"field":"s"}}}
]}}
]},
{"data":{"name":"arr"},"width":180,"height":61,"view":{"stroke":null},"layer":[
{"mark":{"type":"rule","color":"#222","strokeWidth":1},"encoding":{"x":{"field":"x","type":"quantitative","scale":{"domain":[230.3,258.3],"nice":false},"axis":null},"y":{"datum":0.91,"scale":{"domain":[0,1],"nice":false},"axis":null},"y2":{"datum":0.57}}},
{"mark":{"type":"point","shape":"triangle-up","filled":true,"size":18,"color":"#222","opacity":1},"encoding":{"x":{"field":"x","type":"quantitative"},"y":{"datum":0.9}}},
{"mark":{"type":"text","align":"center","baseline":"alphabetic","fontSize":13,"fontWeight":"bold","color":"#111"},"encoding":{"x":{"field":"x","type":"quantitative"},"y":{"datum":0.3},"text":{"field":"a"}}},
{"mark":{"type":"text","align":"center","baseline":"alphabetic","fontSize":13,"fontWeight":"bold","color":"#111"},"encoding":{"x":{"field":"x","type":"quantitative"},"y":{"datum":0.08},"text":{"field":"b"}}}
]}
]
}]
}
],
"spacing": 6
}
